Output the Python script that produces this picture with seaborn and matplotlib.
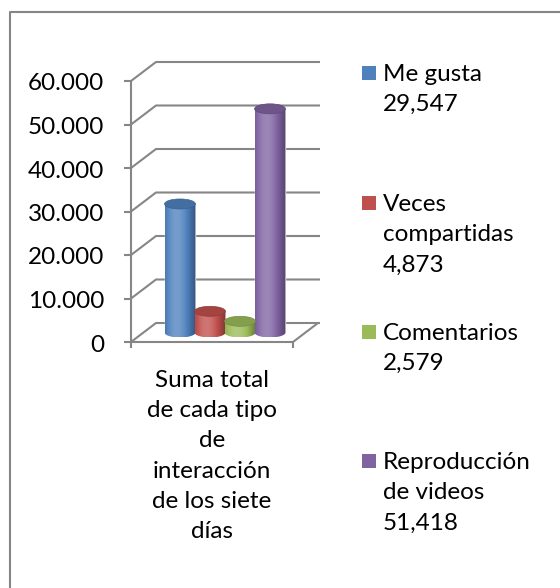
import numpy as np
import pandas as pd
import matplotlib
matplotlib.use("Agg")
import matplotlib.pyplot as plt
from matplotlib.patches import Ellipse, Rectangle, PathPatch
from matplotlib.path import Path
from matplotlib.lines import Line2D
from matplotlib.colors import to_rgb
import seaborn as sns

# data
series = ["Me gusta", "Veces\ncompartidas", "Comentarios", "Reproducción\nde videos"]
values = [29547, 4873, 2579, 51418]
colors = ["#4F81BD", "#C0504D", "#9BBB59", "#8064A2"]
category = "Suma total\nde cada tipo\nde\ninteracción\nde los siete\ndías"
yticks = [0, 10000, 20000, 30000, 40000, 50000, 60000]
ytick_labels = ["0", "10.000", "20.000", "30.000", "40.000", "50.000", "60.000"]

sns.set_theme(style="white")
plt.rcParams["font.family"] = ["Lato", "DejaVu Sans"]

W, H = 560, 588
PX_X = 30.0          # pixels per category unit
PX_Y = 4.35 / 1000   # pixels per value unit
FS = 17.5
LS = 1.54
GRID = "#868686"

fig = plt.figure(figsize=(W / 100, H / 100), dpi=100)
fig.patch.set_facecolor("white")
ax = fig.add_axes([131 / W, 1 - 342 / H, 189 / W, 280 / H])

x_left = (131 - 180) / PX_X
x_right = (320 - 180) / PX_X
x_floor = x_left + 162 / PX_X
DX = 25 / PX_X
DY = 19 / PX_Y
BW = 1.03
EH = 10 / PX_Y
base = DY / 2

# 3d frame: walls, gridlines, floor
line_kw = dict(color=GRID, lw=1.5, clip_on=False, zorder=1, solid_capstyle="butt")
for v, lab in zip(yticks, ytick_labels):
    ax.plot([x_left, x_left + DX, x_right], [v, v + DY, v + DY], **line_kw)
    ax.plot([x_left - 7 / PX_X, x_left], [v, v], **line_kw)
    ax.text(x_left - 27 / PX_X, v - 3 / PX_Y, lab, ha="right", va="center",
            fontsize=FS, color="black")
ax.plot([x_left, x_left], [0, yticks[-1]], **line_kw)
ax.plot([x_left, x_floor, x_floor + DX], [0, 0, DY], **line_kw)
for xt in [x_left, x_floor]:
    ax.plot([xt, xt], [0, -6 / PX_Y], **line_kw)

# bars
df = pd.DataFrame({"serie": series, "valor": values})
sns.barplot(data=df, x="serie", y="valor", hue="serie", palette=colors,
            width=BW, saturation=1, legend=False, ax=ax, zorder=3)

t = np.linspace(0, 1, 200)
shade = 0.80 + 0.38 * np.cos((t - 0.38) * np.pi)
for cont, col in zip(ax.containers, colors):
    rgb = np.array(to_rgb(col))
    for p in cont.patches:
        p.set_y(base)
        x0, w, h = p.get_x(), p.get_width(), p.get_height()
        cx = x0 + w / 2
        # cylinder body shading
        img = np.zeros((1, len(t), 3))
        for i, s in enumerate(shade):
            if s >= 1:
                img[0, i] = rgb + (1 - rgb) * (s - 1) * 1.2
            else:
                img[0, i] = rgb * s
        img = np.clip(img, 0, 1)
        ang = np.linspace(np.pi, 2 * np.pi, 60)
        verts = [(cx + w / 2 * np.cos(a), base + EH / 2 * np.sin(a)) for a in ang]
        verts += [(x0 + w, base + h), (x0, base + h), verts[0]]
        clip = PathPatch(Path(verts), transform=ax.transData, facecolor="none", edgecolor="none")
        ax.add_patch(clip)
        im = ax.imshow(img, extent=[x0, x0 + w, base - EH / 2, base + h],
                       aspect="auto", zorder=4, interpolation="bilinear")
        im.set_clip_path(clip)
        top = rgb * 0.85
        ax.add_patch(Ellipse((cx, base + h), w, EH, facecolor=top,
                             edgecolor=rgb * 0.75, lw=0.5, zorder=5))

ax.set_xlim(x_left, x_right)
ax.set_ylim(0, 280 / PX_Y)
ax.axis("off")

# category label under the floor
fig.text(212 / W, 1 - 370 / H, category, ha="center", va="top",
         fontsize=FS, color="black", linespacing=LS)

# legend
first_lines = [73, 203, 332, 461]
for name, v, col, yc in zip(series, values, colors, first_lines):
    fig.patches.append(Rectangle((362 / W, 1 - (yc + 7) / H), 14 / W, 14 / H,
                                 transform=fig.transFigure, facecolor=col,
                                 edgecolor="none"))
    fig.text(383 / W, 1 - (yc - 9) / H, f"{name}\n{v:,}", ha="left", va="top",
             fontsize=FS, color="black", linespacing=LS)

# outer border (top and left edges)
fig.lines.append(Line2D([9.5 / W, 9.5 / W, 1], [0, 1 - 11.5 / H, 1 - 11.5 / H],
                        transform=fig.transFigure, color=GRID, lw=1.5))

fig.savefig("out.png", dpi=100)
